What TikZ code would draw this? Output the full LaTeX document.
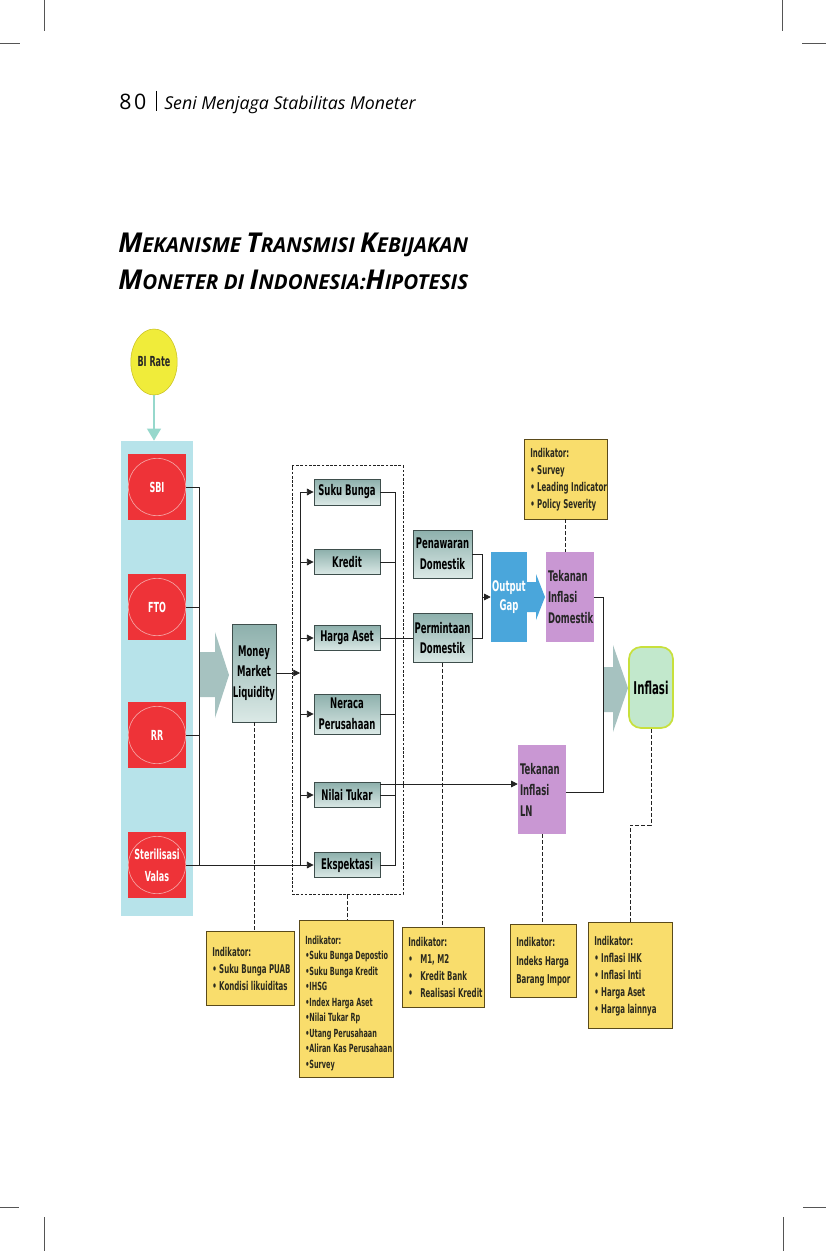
\documentclass[tikz,border=0pt]{standalone}
\usepackage{fontspec}
\usetikzlibrary{arrows.meta,calc,shapes.geometric}
\newfontfamily\hdrfont{Open Sans}
\newfontfamily\dgfont[FakeStretch=0.58]{DejaVu Sans}
\definecolor{panelc}{HTML}{B7E3EA}
\definecolor{redc}{HTML}{EE3338}
\definecolor{circc}{HTML}{F5A3A3}
\definecolor{purpc}{HTML}{C997D3}
\definecolor{bluec}{HTML}{4AA6DB}
\definecolor{yelc}{HTML}{F9DD6C}
\definecolor{ybord}{HTML}{5A4A1A}
\definecolor{ytextc}{HTML}{2B2A1E}
\definecolor{greenc}{HTML}{C2E8CC}
\definecolor{greenb}{HTML}{C8E03C}
\definecolor{grayarr}{HTML}{A6C2C0}
\definecolor{gtop}{HTML}{8DB0AC}
\definecolor{gbot}{HTML}{DBE9E6}
\definecolor{gborder}{HTML}{3E4E4C}
\definecolor{linec}{HTML}{222222}
\definecolor{biy}{HTML}{F0EC3A}
\definecolor{biyb}{HTML}{C8C020}
\definecolor{tealarr}{HTML}{96D8CC}
\definecolor{cropc}{HTML}{555555}
\newcommand\BC[1]{{\fontsize{20.5}{20.5}\selectfont #1}}
\newcommand\SCp[1]{{\fontsize{15.4}{15.4}\selectfont #1}}
\tikzset{
 sz/.style n args={2}{minimum width=#1*0.75pt, minimum height=#2*0.75pt},
 gbox/.style={draw=gborder, line width=0.6pt, top color=gtop, bottom color=gbot, inner sep=0pt, align=center, font=\dgfont\bfseries\fontsize{11}{15.5}\selectfont, text=black},
 redbox/.style={fill=redc, inner sep=0pt, align=center, text=white, font=\dgfont\bfseries\fontsize{10.4}{16.5}\selectfont},
 purp/.style={fill=purpc, inner xsep=1.5pt, inner ysep=0pt, text width=33pt, align=left, font=\dgfont\bfseries\fontsize{11}{15.5}\selectfont, text=black!85},
 ybox/.style={fill=yelc, draw=ybord, line width=0.7pt, inner sep=0pt},
 ytext/.style={inner sep=0pt, anchor=north west, align=left, font=\dgfont\bfseries\fontsize{9.1}{12.75}\selectfont, text=ytextc},
 conn/.style={line width=0.6pt, draw=linec},
 arr/.style={conn, -{Triangle[length=5pt,width=5pt]}},
 dsh/.style={line width=0.6pt, draw=linec, dash pattern=on 3pt off 1.5pt},
 crop/.style={line width=0.5pt, draw=cropc},
}
\begin{document}
\begin{tikzpicture}[x=0.75pt,y=-0.75pt]
\useasboundingbox (0,0) rectangle (826,1251);
% crop marks
\draw[crop] (44,0) -- (44,31); \draw[crop] (0,43) -- (20,43);
\draw[crop] (782,0) -- (782,31); \draw[crop] (802,43) -- (826,43);
\draw[crop] (0,1207) -- (19,1207); \draw[crop] (44,1217) -- (44,1251);
\draw[crop] (803,1207) -- (826,1207); \draw[crop] (783,1217) -- (783,1251);
% header
\node[anchor=base west, inner sep=0pt, font=\hdrfont\fontsize{16}{18}\selectfont] (pgno) at (119,110) {8\kern2pt 0};
\draw[line width=0.6pt] (156,91) -- (156,111);
\node[anchor=base west, inner sep=0pt, font=\hdrfont\itshape\fontsize{13.3}{15}\selectfont] (hdr) at (164,110) {Seni Menjaga Stabilitas Moneter};
% title
\node[anchor=base west, inner sep=0pt, font=\hdrfont\bfseries\itshape\fontsize{15.4}{16}\selectfont] (t1) at (118,253) {\BC{M}\SCp{EKANISME} \BC{T}\SCp{RANSMISI} \BC{K}\SCp{EBIJAKAN}};
\node[anchor=base west, inner sep=0pt, font=\hdrfont\bfseries\itshape\fontsize{15.4}{16}\selectfont] (t2) at (118,290) {\BC{M}\SCp{ONETER DI} \BC{I}\SCp{NDONESIA}:\BC{H}\SCp{IPOTESIS}};

% BI rate
\node[ellipse, fill=biy, draw=biyb, line width=0.4pt, sz={38}{66}, inner sep=0pt, font=\dgfont\bfseries\fontsize{10.4}{11}\selectfont, text=black!85] (bi) at (154,362) {BI Rate};
% panel
\node[fill=panelc, sz={72}{475}, inner sep=0pt] (panel) at (157,678.5) {};
\draw[tealarr, line width=2pt, -{Triangle[length=9pt,width=10pt]}] (bi.south) -- (bi.south |- panel.north);
% red instruments
\node[redbox, sz={58}{66}] (sbi) at (157,487) {SBI};
\node[redbox, sz={58}{66}] (fto) at (157,607) {FTO};
\node[redbox, sz={58}{66}] (rr) at (157,735) {RR};
\node[redbox, sz={58}{66}] (ster) at (157,865) {Sterilisasi\\Valas};
\foreach \n in {sbi,fto,rr,ster} \draw[circc, line width=0.5pt] (\n.center) circle[radius=21.5pt];

% gray block arrow 1
\fill[grayarr] (200,652) -- (215,652) -- (215,632) -- (229,675) -- (215,718) -- (215,697) -- (200,697) -- cycle;

% money market
\node[gbox, sz={44}{98}] (mml) at (254,673) {Money\\Market\\Liquidity};

% dashed group
\node[draw=linec, line width=0.6pt, dash pattern=on 2pt off 1.2pt, sz={111}{429}, inner sep=0pt] (dbox) at (347.5,680) {};

% channel boxes
\node[gbox, sz={66}{26}] (sb) at (347,492) {Suku Bunga};
\node[gbox, sz={66}{25}] (kr) at (347,562) {Kredit};
\node[gbox, sz={66}{25}] (ha) at (347,638) {Harga Aset};
\node[gbox, sz={66}{40}] (np) at (347,714) {Neraca\\Perusahaan};
\node[gbox, sz={66}{25}] (nt) at (347,795) {Nilai Tukar};
\node[gbox, sz={66}{25}] (ek) at (347,865) {Ekspektasi};

% demand / supply
\node[gbox, sz={59}{48}] (pen) at (442.5,554) {Penawaran\\Domestik};
\node[gbox, sz={59}{49}] (per) at (442.5,638) {Permintaan\\Domestik};

% output gap with arrow
\fill[bluec] (527,582) -- (536,582) -- (536,574) -- (545,597) -- (536,620) -- (536,612) -- (527,612) -- cycle;
\node[fill=bluec, sz={36}{90}, inner sep=0pt, align=center, text=white, font=\dgfont\bfseries\fontsize{11}{14.3}\selectfont] (og) at (509,597) {Output\\Gap};

% pressure boxes
\node[purp, sz={48}{90}] (tid) at (570,597) {Tekanan\\Inflasi\\Domestik};
\node[purp, sz={48}{89}, font=\dgfont\bfseries\fontsize{11}{15.8}\selectfont] (tln) at (542,789.5) {Tekanan\\Inflasi\\LN};

% gray block arrow 2
\fill[grayarr] (603,667) -- (613,667) -- (613,645) -- (628,688) -- (613,732) -- (613,712) -- (603,712) -- cycle;
% inflasi
\node[fill=greenc, draw=greenb, line width=1.3pt, rounded corners=9pt, sz={44}{81}, inner sep=0pt, font=\dgfont\bfseries\fontsize{13.2}{14}\selectfont, text=black] (infl) at (651,687.5) {Inflasi};

% indicator boxes
\node[ybox, sz={83}{80}] (ind0) at (565.5,479) {};
\node[ytext] (ind0t) at (530,448.5) {Indikator:\\• Survey\\• Leading Indicator\\• Policy Severity};
\node[ybox, sz={88}{74}] (ind1) at (250,968) {};
\node[ytext] (ind1t) at (212,947) {Indikator:\\• Suku Bunga PUAB\\• Kondisi likuiditas};
\node[ybox, sz={94}{157}] (ind2) at (346,998.5) {};
\node[ytext, font=\dgfont\bfseries\fontsize{8.4}{11.6}\selectfont] (ind2t) at (305,935.5) {Indikator:\\•Suku Bunga Depostio\\•Suku Bunga Kredit\\•IHSG\\•Index Harga Aset\\•Nilai Tukar Rp\\•Utang Perusahaan\\•Aliran Kas Perusahaan\\•Survey};
\node[ybox, sz={82}{80}] (ind3) at (443,967) {};
\node[ytext] (ind3t) at (408,937.5) {Indikator:\\\makebox[9pt][l]{•}M1, M2\\\makebox[9pt][l]{•}Kredit Bank\\\makebox[9pt][l]{•}Realisasi Kredit};
\node[ybox, sz={66}{73}] (ind4) at (543,960.5) {};
\node[ytext, font=\dgfont\bfseries\fontsize{9.1}{13.8}\selectfont] (ind4t) at (516,937.5) {Indikator:\\Indeks Harga\\Barang Impor};
\node[ybox, sz={84}{106}] (ind5) at (630,975) {};
\node[ytext] (ind5t) at (594,936.5) {Indikator:\\• Inflasi IHK\\• Inflasi Inti\\• Harga Aset\\• Harga lainnya};

% helper positions
\coordinate (tl) at (199,0);
\coordinate (tr) at (300,0);
\coordinate (tc) at (395,0);
\coordinate (br) at (482,0);
\coordinate (rb) at (603,0);
\coordinate (ntu) at ($(nt.east)+(0,-11)$);
\coordinate (tle) at ($(tln.east)+(0,3)$);

% instruments to collector
\draw[conn] (sbi.east) -- (sbi.east -| tl) -- (ster.east -| tl);
\draw[conn] (fto.east) -- (fto.east -| tl);
\draw[conn] (rr.east) -- (rr.east -| tl);
\draw[arr] (ster.east) -- (ek.west);
% MML to trunk
\draw[arr] (mml.east) -- (mml.east -| tr);
\draw[conn] (sb.west -| tr) -- (ek.west -| tr);
\foreach \n in {sb,kr,ha,np,nt} \draw[arr] (\n.west -| tr) -- (\n.west);
% channels to right collector
\draw[conn] (sb.east) -- (sb.east -| tc) -- (ek.east -| tc) -- (ek.east);
\draw[conn] (kr.east) -- (kr.east -| tc);
\draw[conn] (np.east) -- (np.east -| tc);
\draw[conn] (nt.east) -- (nt.east -| tc);
\draw[conn] (ha.east) -- (per.west);
\draw[arr] (ntu) -- (ntu -| tln.west);
% supply/demand to output gap
\draw[conn] (pen.east) -- (pen.east -| br) -- (per.east -| br) -- (per.east);
\draw[arr] (og.west -| br) -- (og.west);
% pressures to inflation
\draw[conn] (tid.east) -- (tid.east -| rb) -- (tle -| rb) -- (tle);

% dashed indicator links
\draw[dsh] (ind0.south) -- (ind0.south |- tid.north);
\draw[dsh] (mml.south) -- (mml.south |- ind1.north);
\draw[dsh] (dbox.south) -- (dbox.south |- ind2.north);
\draw[dsh] (per.south) -- (per.south |- ind3.north);
\draw[dsh] (tln.south) -- (tln.south |- ind4.north);
\draw[dsh] (infl.south) -- (651,825) -| (ind5.north);
\end{tikzpicture}
\end{document}
